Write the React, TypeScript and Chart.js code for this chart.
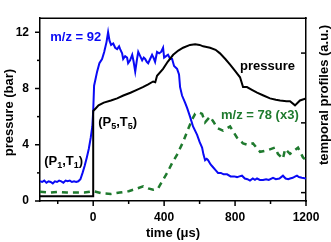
import React, { useEffect, useRef } from 'react';
import { Chart, registerables } from 'chart.js';

Chart.register(...registerables);

// ---- data ----
const pressureTime = [-300, 0, 0, 15, 30, 60, 100, 135, 170, 210, 246, 280, 310, 338, 350, 360, 394, 420, 451, 480, 507, 546, 575, 600, 620, 659, 690, 715, 745, 772, 800, 828, 845, 867, 895, 924, 960, 997, 1030, 1054, 1090, 1110, 1138, 1166, 1200];
const pressureBar = [0.33, 0.33, 6.4, 6.6, 6.8, 7.0, 7.15, 7.3, 7.5, 7.7, 7.9, 8.1, 8.3, 8.5, 8.45, 8.9, 9.4, 9.9, 10.4, 10.7, 10.9, 11.1, 11.15, 11.1, 11.0, 10.9, 10.75, 10.5, 10.1, 9.7, 9.25, 8.8, 8.1, 8.1, 7.9, 7.7, 7.5, 7.3, 7.2, 7.15, 7.1, 7.1, 6.8, 7.15, 7.3];

const mz92Time = [-300, -288, -276, -264, -252, -240, -228, -216, -204, -192, -180, -168, -156, -144, -132, -120, -108, -96, -84, -72, -60, -48, -36, -25, -14, -5, 0, 5, 12, 22, 35, 50, 62, 75, 84, 92, 101, 113, 124, 135, 146, 152, 163, 169, 180, 191, 197, 208, 220, 228, 237, 246, 254, 265, 276, 285, 293, 302, 310, 321, 332, 340, 349, 360, 372, 383, 394, 400, 411, 422, 434, 445, 456, 465, 473, 484, 490, 501, 518, 530, 546, 563, 586, 600, 614, 622, 631, 640, 648, 662, 676, 690, 704, 720, 735, 755, 775, 795, 811, 825, 839, 855, 870, 884, 900, 912, 924, 940, 958, 975, 990, 1014, 1030, 1050, 1070, 1085, 1100, 1110, 1125, 1140, 1149, 1160, 1177, 1200];
const mz92Signal = [1.4, 1.35, 1.45, 1.3, 1.4, 1.35, 1.25, 1.4, 1.35, 1.45, 1.4, 1.3, 1.45, 1.4, 1.45, 1.35, 1.4, 1.35, 1.4, 1.55, 2.0, 2.5, 3.1, 3.7, 4.5, 5.3, 6.4, 8.2, 8.6, 9.2, 9.8, 10.1, 10.6, 11.3, 12.0, 11.4, 11.1, 11.2, 10.9, 10.8, 11.0, 10.8, 10.5, 10.1, 10.3, 10.2, 9.8, 10.0, 10.4, 9.9, 9.2, 10.0, 10.6, 10.3, 10.0, 10.2, 10.1, 9.9, 9.8, 10.1, 10.4, 10.2, 9.9, 10.6, 10.5, 10.6, 10.9, 10.2, 10.3, 10.4, 10.1, 10.1, 9.6, 9.5, 9.4, 9.0, 8.1, 7.5, 7.0, 6.6, 6.0, 5.3, 4.7, 4.2, 3.8, 3.3, 2.9, 3.0, 2.9, 2.6, 2.4, 2.2, 2.0, 2.0, 1.9, 1.9, 1.75, 1.75, 1.7, 1.75, 1.8, 1.6, 1.55, 1.45, 1.6, 1.5, 1.6, 1.5, 1.5, 1.55, 1.5, 1.65, 1.55, 1.6, 1.8, 1.6, 1.55, 1.6, 1.65, 1.75, 1.8, 1.7, 1.65, 1.6];

const mz78Time = [-300, -250, -200, -150, -100, -50, 0, 50, 100, 150, 200, 250, 282, 310, 338, 366, 389, 417, 445, 473, 507, 535, 558, 575, 595, 614, 631, 659, 680, 698, 732, 772, 811, 845, 870, 901, 941, 980, 1025, 1042, 1070, 1082, 1110, 1135, 1155, 1183, 1200];
const mz78Signal = [0.65, 0.6, 0.65, 0.6, 0.6, 0.6, 0.7, 0.55, 0.5, 0.6, 0.7, 0.9, 1.05, 0.9, 0.8, 0.9, 1.4, 2.0, 2.7, 3.3, 4.2, 5.1, 5.8, 6.2, 6.3, 6.2, 5.6, 6.0, 5.6, 5.2, 5.0, 5.3, 4.5, 4.1, 4.0, 4.1, 3.5, 3.6, 3.8, 3.35, 3.0, 3.7, 3.35, 3.6, 3.8, 3.1, 2.9];

const xMajorTicks = [0, 400, 800, 1200];
const xMinorTicks = [-200, 200, 600, 1000];
const yMajorTicks = [0, 4, 8, 12];
const yMinorTicks = [2, 6, 10];
const y2Ticks = [0, 1, 2];

const FONT = '"Liberation Sans", Arial, Helvetica, sans-serif';
const BLUE = '#0a0af5';
const GREEN = '#1f7a2e';

const toPoints = (xs: number[], ys: number[]) => xs.map((x, i) => ({ x, y: ys[i] }));

// annotations positioned in data coordinates (left/baseline)
const labels = [
  { text: 'm/z = 92', t: -242, v: 11.35, color: BLUE },
  { text: 'pressure', t: 828, v: 9.31, color: '#000' },
  { text: 'm/z = 78 (x3)', t: 721, v: 5.84, color: GREEN },
];
const subLabels = [
  { parts: ['(P', '5', ',T', '5', ')'], t: 28, v: 5.31 },
  { parts: ['(P', '1', ',T', '1', ')'], t: -276, v: 2.56 },
];

const decorPlugin = {
  id: 'decor',
  afterDraw(chart: any) {
    const { ctx, chartArea: a, scales } = chart;
    const sx = scales.x, sy = scales.y, sy2 = scales.y2;
    ctx.save();
    ctx.strokeStyle = '#000';
    ctx.lineWidth = 1.5;
    const line = (x1: number, y1: number, x2: number, y2: number) => {
      ctx.beginPath(); ctx.moveTo(x1, y1); ctx.lineTo(x2, y2); ctx.stroke();
    };
    line(a.left - 0.75, a.top, a.right + 0.75, a.top);
    xMajorTicks.forEach(v => { const p = sx.getPixelForValue(v); line(p, a.bottom, p, a.bottom + 5); });
    xMinorTicks.forEach(v => { const p = sx.getPixelForValue(v); line(p, a.bottom, p, a.bottom + 3); });
    yMajorTicks.forEach(v => { const p = sy.getPixelForValue(v); line(a.left - 5, p, a.left, p); });
    yMinorTicks.forEach(v => { const p = sy.getPixelForValue(v); line(a.left - 3, p, a.left, p); });
    y2Ticks.forEach(v => { const p = sy2.getPixelForValue(v); line(a.right - 5, p, a.right, p); });

    ctx.font = `bold 13px ${FONT}`;
    ctx.textBaseline = 'alphabetic';
    ctx.textAlign = 'left';
    labels.forEach(l => {
      ctx.fillStyle = l.color;
      ctx.fillText(l.text, sx.getPixelForValue(l.t), sy.getPixelForValue(l.v));
    });
    ctx.fillStyle = '#000';
    subLabels.forEach(l => {
      let x = sx.getPixelForValue(l.t);
      const y = sy.getPixelForValue(l.v);
      l.parts.forEach((p, i) => {
        const sub = i === 1 || i === 3;
        ctx.font = sub ? `bold 9px ${FONT}` : `bold 13px ${FONT}`;
        ctx.fillText(p, x, sub ? y + 3 : y);
        x += ctx.measureText(p).width;
      });
    });

    // axis titles
    ctx.font = `bold 13px ${FONT}`;
    ctx.textAlign = 'center';
    ctx.fillText('time (\u03bcs)', (a.left + a.right) / 2, 237);
    ctx.save();
    ctx.translate(13, (a.top + a.bottom) / 2 + 3);
    ctx.rotate(-Math.PI / 2);
    ctx.fillText('pressure (bar)', 0, 0);
    ctx.restore();
    ctx.save();
    ctx.translate(328, 95);
    ctx.rotate(-Math.PI / 2);
    ctx.fillText('temporal profiles (a.u.)', 0, 0);
    ctx.restore();
    ctx.restore();
  },
};

export default function App() {
  const ref = useRef<HTMLCanvasElement>(null);
  useEffect(() => {
    if (!ref.current) return;
    const tickFont = { family: FONT, size: 12, weight: 'bold' as const };
    const chart = new Chart(ref.current, {
      type: 'line',
      data: {
        datasets: [
          { label: 'pressure', data: toPoints(pressureTime, pressureBar), borderColor: '#000', borderWidth: 2, pointRadius: 0, tension: 0, fill: false },
          { label: 'm/z = 92', data: toPoints(mz92Time, mz92Signal), borderColor: BLUE, borderWidth: 2, pointRadius: 0, tension: 0, fill: false },
          { label: 'm/z = 78 (x3)', data: toPoints(mz78Time, mz78Signal), borderColor: GREEN, borderWidth: 2.5, borderDash: [6, 5], pointRadius: 0, tension: 0, fill: false },
        ],
      },
      options: {
        animation: false,
        responsive: false,
        layout: { padding: { top: 2, left: 0, right: 0, bottom: 0 } },
        plugins: { legend: { display: false }, tooltip: { enabled: false } },
        scales: {
          x: {
            type: 'linear', min: -300, max: 1200,
            afterBuildTicks: (s: any) => { s.ticks = xMajorTicks.map(v => ({ value: v })); },
            ticks: { font: tickFont, color: '#000', padding: 9, maxRotation: 0, autoSkip: false, callback: (v: any) => String(v) },
            grid: { display: false, drawTicks: false },
            border: { display: true, color: '#000', width: 1.5 },
            afterFit: (s: any) => { s.height = 41; },
          },
          y: {
            type: 'linear', min: 0, max: 13,
            afterBuildTicks: (s: any) => { s.ticks = yMajorTicks.map(v => ({ value: v })); },
            ticks: { font: tickFont, color: '#000', padding: 11, autoSkip: false, callback: (v: any) => String(v) },
            grid: { display: false, drawTicks: false },
            border: { display: true, color: '#000', width: 1.5 },
            afterFit: (s: any) => { s.width = 40; },
          },
          y2: {
            type: 'linear', position: 'right', min: -0.12, max: 2.5,
            ticks: { display: false },
            grid: { display: false, drawTicks: false },
            border: { display: true, color: '#000', width: 1.5 },
            afterFit: (s: any) => { s.width = 25; },
          },
        },
      },
      plugins: [decorPlugin],
    });
    return () => chart.destroy();
  }, []);
  return (
    <div style={{ position: 'fixed', left: 0, top: 0, width: 331, height: 242, background: '#fff' }}>
      <canvas ref={ref} width={331} height={242} style={{ display: 'block' }} />
    </div>
  );
}
